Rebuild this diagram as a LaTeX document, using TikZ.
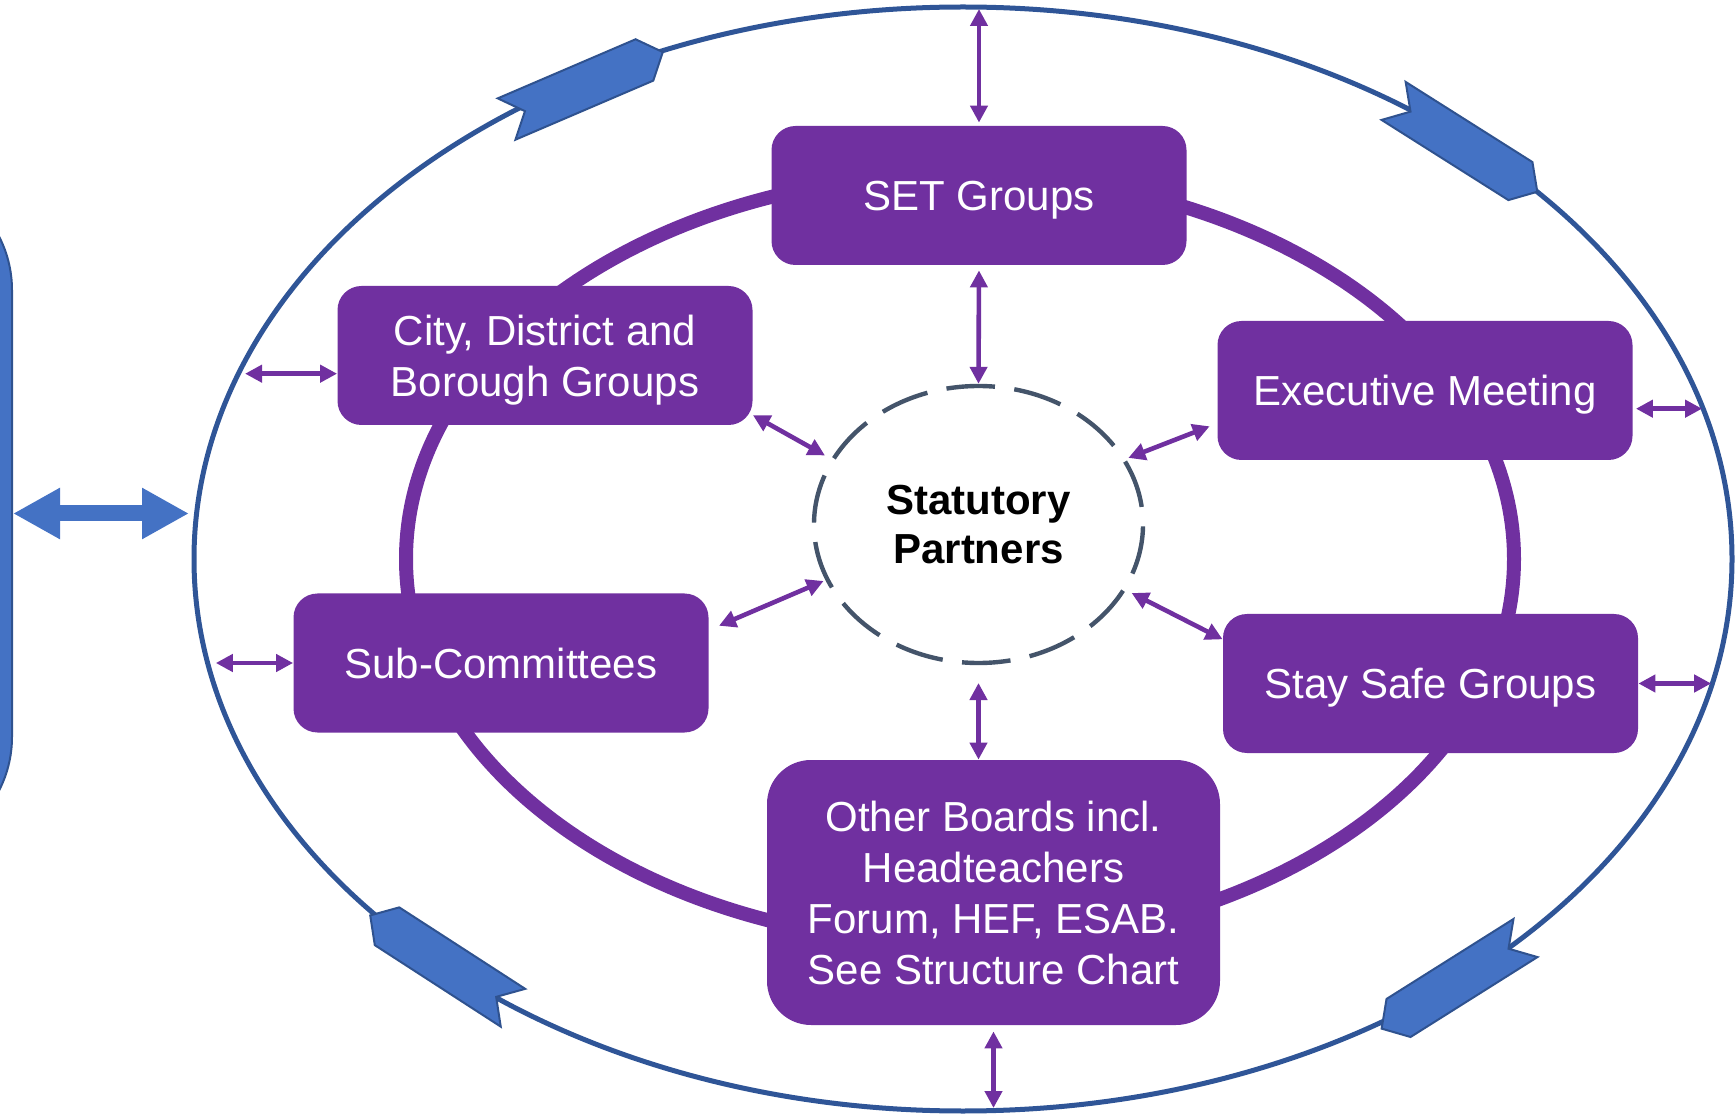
\documentclass[tikz,border=0pt]{standalone}
\usepackage{fontspec}
\setmainfont{Liberation Sans}
\usetikzlibrary{arrows.meta}
\usetikzlibrary{shapes.geometric}
\definecolor{sbpurple}{HTML}{7030A0}
\definecolor{sbblue}{HTML}{4472C4}
\definecolor{sbedge}{HTML}{2F528F}
\definecolor{ringblue}{HTML}{2F5597}
\definecolor{slate}{HTML}{44546A}

\begin{document}
\begin{tikzpicture}[x=0.5pt, y=-0.5pt]
        \tikzset{groupbox/.style={fill=sbpurple, text=white, rounded corners=12pt, inner sep=0pt, minimum width=207.5pt, minimum height=69.5pt, align=center, text depth=-4.4pt, font=\fontsize{21}{25.5}\selectfont}};
        \tikzset{link/.style={draw=sbpurple, line width=2.3pt, >={Triangle[length=8.5pt,width=8.5pt]}, <->}};
        \tikzset{bigarrow/.style={draw=sbblue, line width=8pt, >={Triangle[length=23.5pt,width=24pt]}, <->}};
        \tikzset{chevron/.style={fill=sbblue, draw=sbedge, line width=1pt}};
        \tikzset{outerring/.style={ellipse, draw=ringblue, line width=2.5pt, minimum width=769pt, minimum height=552pt, inner sep=0pt, outer sep=0pt}};
        \tikzset{orbit/.style={draw=sbpurple, line width=7pt}};
        \tikzset{core/.style={ellipse, draw=slate, line width=2.2pt, dash pattern=on 24.3pt off 9.76pt, dash phase=25.24pt, minimum width=164.5pt, minimum height=138.5pt, inner sep=0pt, align=center, text depth=-4.4pt, font=\bfseries\fontsize{21}{24.75}\selectfont}};

        \useasboundingbox (0,0) rectangle (1736,1117);
        \clip (0,0) rectangle (1736,1117);

        \node[outerring] (ring) at (963,559) {};
        \draw[orbit] (960,559) ellipse [x radius=277pt, y radius=192.5pt];

        \draw[chevron, shift={(575.5,89.5)}, rotate=23.2] (-75,-22.5) -- (-55,0) -- (-75,22.5) -- (75,22.5) -- (95,0) -- (75,-22.5) -- cycle;
        \draw[chevron, shift={(1457,141)}, rotate=-32.3] (-75,-22.5) -- (-55,0) -- (-75,22.5) -- (75,22.5) -- (95,0) -- (75,-22.5) -- cycle;
        \draw[chevron, shift={(1462,978)}, rotate=212.2] (-75,-22.5) -- (-55,0) -- (-75,22.5) -- (75,22.5) -- (95,0) -- (75,-22.5) -- cycle;
        \draw[chevron, shift={(450,967)}, rotate=147.1] (-75,-22.5) -- (-55,0) -- (-75,22.5) -- (75,22.5) -- (95,0) -- (75,-22.5) -- cycle;

        \node[draw=sbedge, line width=1pt, fill=sbblue, rounded corners=58.5pt, minimum width=200pt, minimum height=340.5pt] (panel) at (-188,513.5) {};
        \draw[bigarrow, shorten >=2.5pt] (panel.east) -- (panel.east -| ring.west);

        \node[groupbox] (set) at (979,195.5) {SET Groups};
        \node[groupbox] (city) at (545,355.5) {City, District and\\Borough Groups};
        \node[groupbox] (exec) at (1425,390.5) {Executive Meeting};
        \node[groupbox] (sub) at (501,663) {Sub-Committees};
        \node[groupbox] (stay) at (1430.5,683.5) {Stay Safe Groups};
        \node[groupbox, rounded corners=22pt, minimum width=226.5pt, minimum height=132.5pt] (other) at (993.5,892.5) {Other Boards incl.\\Headteachers\\Forum, HEF, ESAB.\\See Structure Chart};

        \node[core] (partners) at (978.5,524.5) {Statutory\\Partners};

        \coordinate (ringcity) at (238.65,373.65);
        \coordinate (ringexec) at (1703.1,409);
        \coordinate (ringsub) at (207.8,663);
        \coordinate (ringstay) at (1712.2,683.5);

        \draw[link, shorten <=1.5pt, shorten >=1pt] (set.north) -- (set.north |- ring.north);
        \draw[link, shorten <=2.5pt] (set.south) -- (partners.north);
        \draw[link, shorten >=3.2pt] (city.185) -- (city.185 -| ringcity);
        \draw[link, shorten >=3.5pt] (city.-16.8) -- (partners.156);
        \draw[link, shorten <=1.5pt, shorten >=0.5pt] (exec.-5.1) -- (exec.-5.1 -| ringexec);
        \draw[link, shorten <=4pt, shorten >=1.3pt] (exec.189.5) -- (partners.24.3);
        \draw[link, shorten >=4pt] (sub.west) -- (ringsub);
        \draw[link, shorten <=5.5pt, shorten >=1pt] (sub.9.55) -- (partners.200.9);
        \draw[link, shorten >=0.5pt] (stay.east) -- (ringstay);
        \draw[link, shorten >=3.2pt] (stay.168.7) -- (partners.-24.5);
        \draw[link, shorten <=8.9pt] (partners.south) -- (partners.south |- other.north);
        \draw[link, shorten <=3pt, shorten >=1.5pt] (other.south) -- (other.south |- ring.south);
    \end{tikzpicture}
\end{document}
